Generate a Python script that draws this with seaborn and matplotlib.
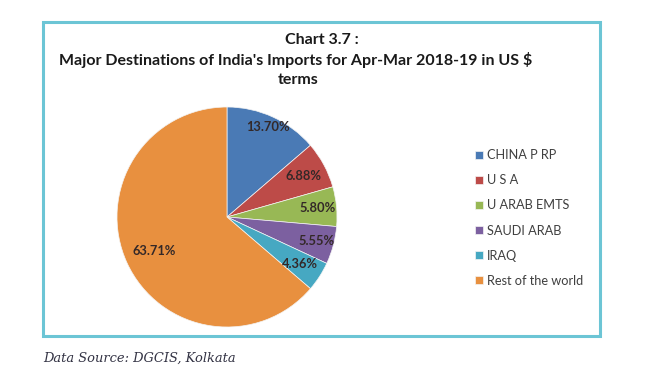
import matplotlib
matplotlib.use("Agg")
import matplotlib.pyplot as plt
import seaborn as sns
from matplotlib.patches import Rectangle
import numpy as np

# Data
countries = ["CHINA P RP", "U S A", "U ARAB EMTS", "SAUDI ARAB", "IRAQ", "Rest of the world"]
shares = [13.70, 6.88, 5.80, 5.55, 4.36, 63.71]
colors = ["#4a7ab5", "#bd4b48", "#98b855", "#7c60a0", "#46a8c2", "#e8903f"]
# how far out each percentage sits (fraction of radius)
label_dist = [0.90, 0.79, 0.83, 0.84, 0.79, 0.73]

sns.set_theme(style="white")
plt.rcParams["font.family"] = ["Lato", "DejaVu Sans"]

fig = plt.figure(figsize=(6.51, 3.83), dpi=100)
W, H = 651, 383

# chart frame
fig.patches.append(Rectangle((43 / W, 1 - 336 / H), 557 / W, 314 / H,
                             transform=fig.transFigure, fill=False,
                             edgecolor="#6cc5d5", linewidth=2.2))

# title
fig.text(322 / W, 1 - 40 / H, "Chart 3.7 :", ha="center", va="center",
         fontsize=11.5, fontweight="bold", color="#1a1a1a")
fig.text(296 / W, 1 - 60 / H, "Major Destinations of India's Imports for Apr-Mar 2018-19 in US $",
         ha="center", va="center", fontsize=11.5, fontweight="bold", color="#1a1a1a")
fig.text(298 / W, 1 - 80 / H, "terms", ha="center", va="center",
         fontsize=11.5, fontweight="bold", color="#1a1a1a")

# pie
ax = fig.add_axes([117 / W, 1 - 327 / H, 220 / W, 220 / H])
wedges, texts, autotexts = ax.pie(shares, colors=colors, startangle=90, counterclock=False,
                                  autopct="%.2f%%", pctdistance=0.8,
                                  wedgeprops=dict(linewidth=0.5, edgecolor="#f4f4f4"),
                                  textprops=dict(fontsize=9.3, fontweight="bold", color="#332828"))
for w, t, d in zip(wedges, autotexts, label_dist):
    ang = np.deg2rad((w.theta1 + w.theta2) / 2)
    t.set_position((d * np.cos(ang), d * np.sin(ang)))
ax.set_xlim(-1, 1)
ax.set_ylim(-1, 1)
ax.set_aspect("equal")
ax.axis("off")

# legend
leg = fig.legend(wedges, countries, loc="upper left", bbox_to_anchor=(470 / W, 1 - 144 / H),
                 frameon=False, fontsize=9.2, handlelength=0.6, handleheight=0.6,
                 handletextpad=0.3, labelspacing=1.03, borderaxespad=0)
for txt in leg.get_texts():
    txt.set_color("#404040")

# source note
fig.text(43 / W, 1 - 358 / H, "Data Source: DGCIS, Kolkata", ha="left", va="center",
         fontsize=9.4, style="italic", family="DejaVu Serif", color="#333344")

fig.savefig("out.png", dpi=100)
